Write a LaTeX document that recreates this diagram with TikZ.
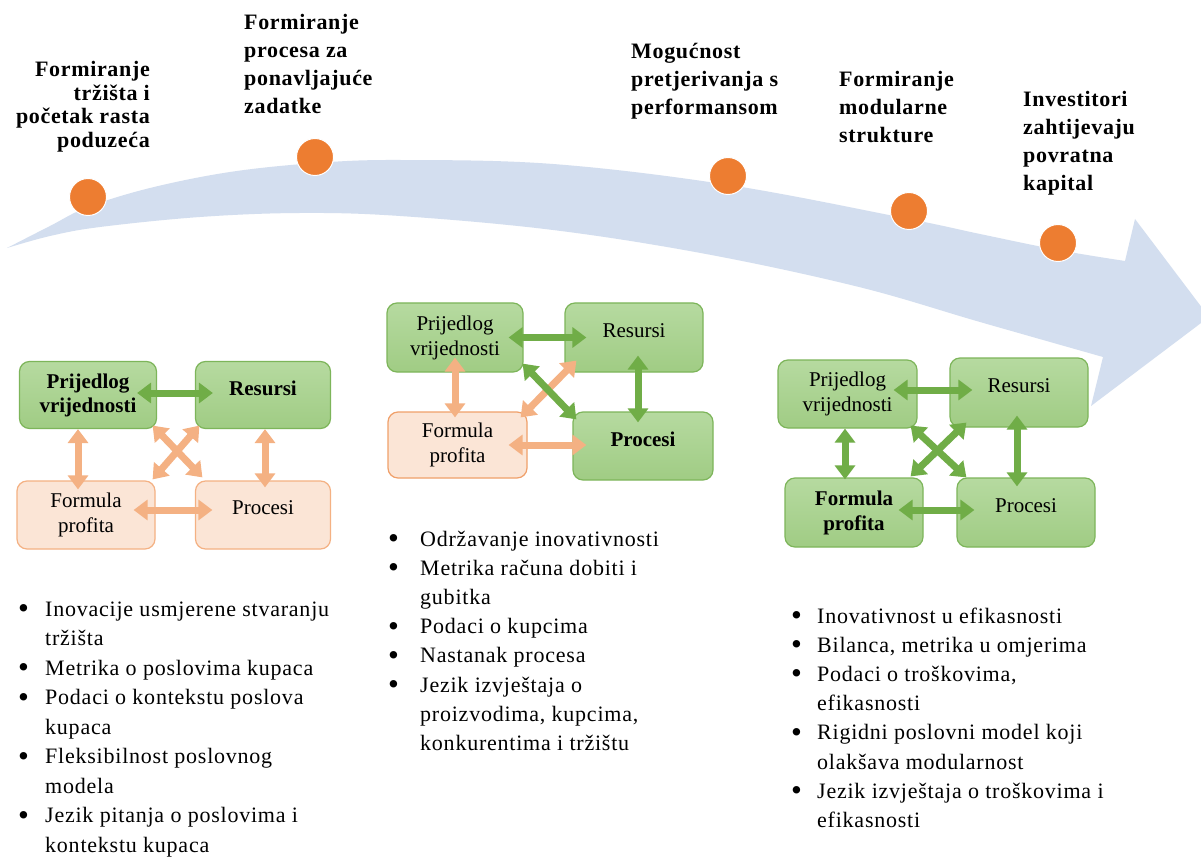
\documentclass[tikz,border=0pt]{standalone}
\usepackage{fontspec}
\setmainfont{Liberation Serif}
\newfontfamily\lsfont[LetterSpace=3.5]{Liberation Serif}
\newfontfamily\lbfont[LetterSpace=3]{Liberation Serif}
\usetikzlibrary{arrows.meta,calc}
\definecolor{bandc}{HTML}{D3DEEF}
\definecolor{dotc}{HTML}{ED7D31}
\definecolor{gfillA}{HTML}{B6DAA0}
\definecolor{gfillB}{HTML}{A0CC84}
\definecolor{gline}{HTML}{7DB55A}
\definecolor{garrow}{HTML}{70AD47}
\definecolor{pfill}{HTML}{FBE5D6}
\definecolor{pline}{HTML}{F4B183}
\definecolor{plineB}{HTML}{F0A06A}
\definecolor{parrow}{HTML}{F4B183}
\newcommand\liftup[1]{\raisebox{7pt}[\height][\depth]{#1}}
\newlength\bulw
\newcommand\bitem[1]{\makebox[\bulw][l]{\raisebox{-2.5pt}[0pt][0pt]{\fontsize{31}{31}\selectfont •}}#1}
\newcommand\bcont[1]{\hspace*{\bulw}#1}
\begin{document}
\begin{tikzpicture}[x=1pt,y=-1pt,
  gbox/.style={draw=gline, line width=1.2pt, rounded corners=10pt, top color=gfillA, bottom color=gfillB, inner sep=0pt, align=center, font=\fontsize{21}{25}\selectfont},
  pbox/.style={draw=pline, line width=1.2pt, rounded corners=10pt, fill=pfill, inner sep=0pt, align=center, font=\fontsize{21}{25}\selectfont},
  garr/.style={draw=garrow, line width=7pt, {Triangle[width=20pt,length=14pt]}-{Triangle[width=20pt,length=14pt]}},
  parr/.style={draw=parrow, line width=7pt, {Triangle[width=20pt,length=14pt]}-{Triangle[width=20pt,length=14pt]}},
  dot/.style={circle, fill=dotc, draw=white, line width=1pt, minimum size=37pt, inner sep=0pt},
  lab/.style={inner sep=0pt, font=\lbfont\bfseries\fontsize{22}{28}\selectfont},
  blist/.style={anchor=base west, inner sep=0pt, font=\lsfont\fontsize{22}{29.5}\selectfont}
]
\useasboundingbox (0,0) rectangle (1201,858);
\fill[white] (0,0) rectangle (1201,858);

% curved band arrow
\fill[bandc] plot[smooth, tension=0.6] coordinates {(7,248) (50,226) (88,207) (150,188) (230,172) (316,163) (400,160) (553,164) (729,185) (909,219) (980,234) (1058,250) (1125,261)}
  -- (1135,219) -- (1209,317) -- (1091,406) -- (1103,357)
  -- plot[smooth, tension=0.6] coordinates {(1103,357) (980,322) (859,287) (706,254) (553,230) (400,216) (300,213) (200,217) (100,227) (50,236) (7,248)} -- cycle;

% milestones
\node[dot] (d1) at (88,197) {};
\node[dot] (d2) at (315,157) {};
\node[dot] (d3) at (728,176) {};
\node[dot] (d4) at (909,211) {};
\node[dot] (d5) at (1058,243) {};

\node[lab, anchor=base east, font=\lbfont\bfseries\fontsize{22}{23.5}\selectfont] (L1) at (150,77) {\begin{tabular}[t]{@{}r@{}}Formiranje\\tržišta i\\početak rasta\\poduzeća\end{tabular}};
\node[lab, anchor=base west] (L2) at (244,30) {\begin{tabular}[t]{@{}l@{}}Formiranje\\procesa za\\ponavljajuće\\zadatke\end{tabular}};
\node[lab, anchor=base west] (L3) at (631,59) {\begin{tabular}[t]{@{}l@{}}Mogućnost\\pretjerivanja s\\performansom\end{tabular}};
\node[lab, anchor=base west] (L4) at (839,87) {\begin{tabular}[t]{@{}l@{}}Formiranje\\modularne\\strukture\end{tabular}};
\node[lab, anchor=base west] (L5) at (1023,107) {\begin{tabular}[t]{@{}l@{}}Investitori\\zahtijevaju\\povratna\\kapital\end{tabular}};

% group 1
\node[gbox, minimum width=137pt, minimum height=67pt, font=\bfseries\fontsize{21}{24}\selectfont] (P1) at (88,395) {Prijedlog\\vrijednosti};
\node[gbox, minimum width=135pt, minimum height=67pt, font=\bfseries\fontsize{21}{24}\selectfont] (R1) at (263,395) {\liftup{Resursi}};
\node[pbox, minimum width=138pt, minimum height=68pt] (F1) at (86,515) {Formula\\profita};
\node[pbox, minimum width=135pt, minimum height=68pt] (Pr1) at (263,515) {\liftup{Procesi}};

\draw[garr] ($(P1.east)+(-20,-2)$) -- ($(R1.west)+(18,-2)$);
\draw[parr] ($(P1.south)+(-10,0)$) -- ($(F1.north)+(-8,9)$);
\draw[parr] ($(R1.south)+(2,0)$) -- ($(Pr1.north)+(2,7)$);
\draw[parr] ($(F1.east)+(-22,-5)$) -- ($(Pr1.west)+(17.5,-5)$);
\draw[parr] ($(P1.south east)+(-4.5,-3.5)$) -- ($(Pr1.north west)+(7.5,-3)$);
\draw[parr] ($(R1.south west)+(4.5,-3.5)$) -- ($(F1.north east)+(-3,-1)$);

% group 2
\node[gbox, minimum width=136pt, minimum height=69pt] (P2) at (455,337.5) {Prijedlog\\vrijednosti};
\node[gbox, minimum width=138pt, minimum height=69pt] (R2) at (634,337.5) {\liftup{Resursi}};
\node[pbox, draw=plineB, minimum width=139pt, minimum height=66pt] (F2) at (457.5,445) {Formula\\profita};
\node[gbox, minimum width=140pt, minimum height=68pt, font=\bfseries\fontsize{21}{25}\selectfont] (Pr2) at (643,446) {\liftup{Procesi}};

\draw[garr] ($(P2.east)+(-15,0)$) -- ($(R2.west)+(22,0)$);
\draw[parr] ($(P2.south)+(0,-15)$) -- ($(F2.north)+(-2.5,6)$);
\draw[garr] ($(R2.south)+(4,-17)$) -- ($(Pr2.north)+(-5,11)$);
\draw[parr] ($(F2.east)+(-19,0)$) -- ($(Pr2.west)+(14,-1)$);
\draw[parr] ($(R2.south west)+(12,-12)$) -- ($(F2.north east)+(-7,6)$);
\draw[garr] ($(P2.south east)+(-1,-9)$) -- ($(Pr2.north west)+(4,8)$);

% group 3
\node[gbox, minimum width=139pt, minimum height=68pt] (P3) at (847.5,394) {Prijedlog\\vrijednosti};
\node[gbox, minimum width=138pt, minimum height=69pt] (R3) at (1019,392.5) {\liftup{Resursi}};
\node[gbox, minimum width=138pt, minimum height=69pt, font=\bfseries\fontsize{21}{25}\selectfont] (F3) at (854,512.5) {Formula\\profita};
\node[gbox, minimum width=138pt, minimum height=69pt] (Pr3) at (1026,512.5) {\liftup{Procesi}};

\draw[garr] ($(P3.east)+(-24,-4)$) -- ($(R3.west)+(23,-2.5)$);
\draw[garr] ($(P3.south)+(-2.5,0)$) -- ($(F3.north)+(-9,2)$);
\draw[garr] ($(R3.south)+(-2,-12)$) -- ($(Pr3.north)+(-9,9)$);
\draw[garr] ($(F3.east)+(-25,-2.5)$) -- ($(Pr3.west)+(18,-2.5)$);
\draw[garr] ($(P3.south east)+(-7,-3)$) -- ($(Pr3.north west)+(10,0)$);
\draw[garr] ($(R3.south west)+(17,-5)$) -- ($(F3.north east)+(-13,-1)$);

% bullet lists
\node[blist] (B1) at (18,616) {\setlength\bulw{27pt}\begin{tabular}[t]{@{}l@{}}
\bitem{Inovacije usmjerene stvaranju}\\
\bcont{tržišta}\\
\bitem{Metrika o poslovima kupaca}\\
\bitem{Podaci o kontekstu poslova}\\
\bcont{kupaca}\\
\bitem{Fleksibilnost poslovnog}\\
\bcont{modela}\\
\bitem{Jezik pitanja o poslovima i}\\
\bcont{kontekstu kupaca}
\end{tabular}};

\node[blist, font=\lsfont\fontsize{22}{29.2}\selectfont] (B2) at (388,546) {\setlength\bulw{32pt}\begin{tabular}[t]{@{}l@{}}
\bitem{Održavanje inovativnosti}\\
\bitem{Metrika računa dobiti i}\\
\bcont{gubitka}\\
\bitem{Podaci o kupcima}\\
\bitem{Nastanak procesa}\\
\bitem{Jezik izvještaja o}\\
\bcont{proizvodima, kupcima,}\\
\bcont{konkurentima i tržištu}
\end{tabular}};

\node[blist, font=\lsfont\fontsize{22}{29.2}\selectfont] (B3) at (791,623) {\setlength\bulw{26pt}\begin{tabular}[t]{@{}l@{}}
\bitem{Inovativnost u efikasnosti}\\
\bitem{Bilanca, metrika u omjerima}\\
\bitem{Podaci o troškovima,}\\
\bcont{efikasnosti}\\
\bitem{Rigidni poslovni model koji}\\
\bcont{olakšava modularnost}\\
\bitem{Jezik izvještaja o troškovima i}\\
\bcont{efikasnosti}
\end{tabular}};
\end{tikzpicture}
\end{document}
